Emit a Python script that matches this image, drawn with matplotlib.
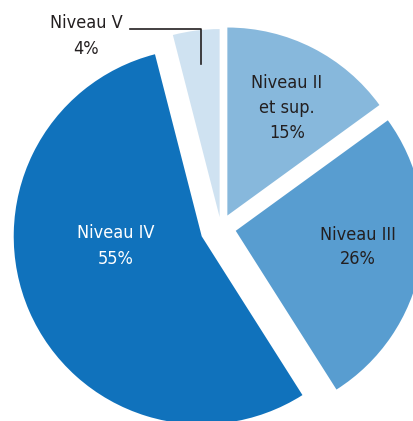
import matplotlib.pyplot as plt

# données
niveaux = ['Niveau II\net sup.', 'Niveau III', 'Niveau IV', 'Niveau V']
parts = [15, 26, 55, 4]
couleurs = ['#87b8dc', '#589dd0', '#1072bc', '#cfe2f1']
eclat = [14, 15, 21, 11]  # en pixels

plt.rcParams['font.family'] = ['DejaVu Sans']
plt.rcParams['font.stretch'] = 'condensed'

fig = plt.figure(figsize=(4.14, 4.21), dpi=100)
ax = fig.add_axes([0, 0, 1, 1])

# camembert (coordonnées en pixels, y vers le haut)
ax.pie(parts, colors=couleurs, explode=eclat, startangle=90, counterclock=False,
       center=(221, 193), radius=188, wedgeprops={'linewidth': 0})

ax.set_xlim(0, 414)
ax.set_ylim(0, 421)
ax.set_aspect('auto')
ax.axis('off')

# étiquettes
pos = [(287, 313), (358, 174), (116, 175), (86, 385)]
txt_col = ['#231f20', '#231f20', 'white', '#231f20']
for nom, p, (x, y), c in zip(niveaux, parts, pos, txt_col):
    ax.text(x, y, f'{nom}\n{p}%', ha='center', va='center', color=c,
            fontsize=13, linespacing=1.5, fontstretch='condensed')

# trait de rappel pour Niveau V
ax.plot([130, 201, 201], [392, 392, 357], color='#231f20', lw=1.2)

fig.savefig('out.png', dpi=100)
